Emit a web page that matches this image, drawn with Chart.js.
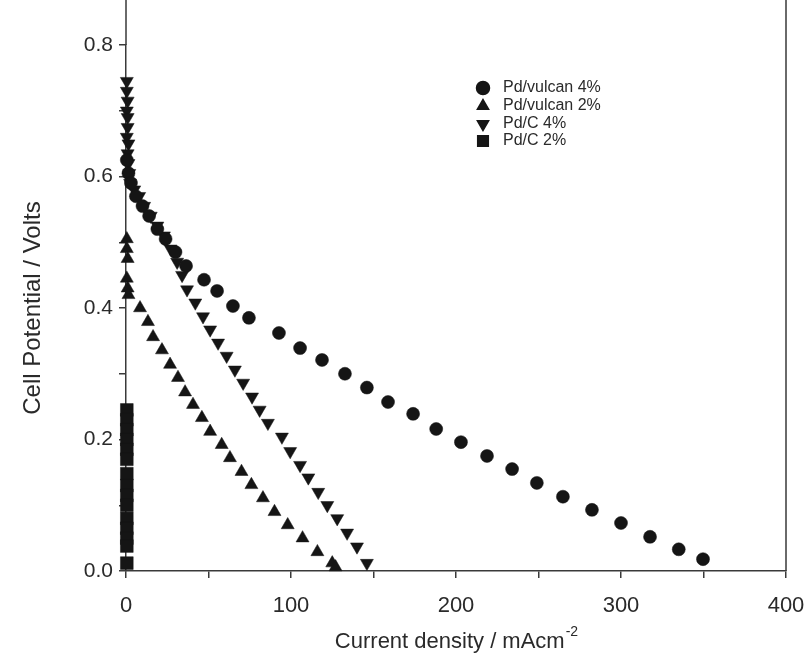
<!DOCTYPE html>
<html>
<head>
<meta charset="utf-8">
<script src="https://cdn.jsdelivr.net/npm/chart.js@4"></script>
<style>
  body { margin: 0; background: #fff; }
  #wrap { width: 811px; height: 668px; }
</style>
</head>
<body>
<div id="wrap"><canvas id="cellChart" width="811" height="668"></canvas></div>
<script>
// values: x = current density (mA/cm2), y = cell potential (V)
const vulcan4X = [0.5, 1.5, 3, 6, 10, 14, 19, 24, 30, 36.4, 47.3, 55.2, 64.8, 74.5, 92.7, 105.5, 118.8, 132.7, 146, 158.8, 174, 188, 203, 218.8, 234, 249, 264.8, 282.4, 300, 317.6, 335, 349.7];
const vulcan4Y = [0.625, 0.605, 0.59, 0.57, 0.555, 0.54, 0.52, 0.505, 0.485, 0.464, 0.443, 0.426, 0.403, 0.385, 0.362, 0.339, 0.321, 0.300, 0.279, 0.257, 0.239, 0.216, 0.196, 0.175, 0.155, 0.134, 0.113, 0.093, 0.073, 0.052, 0.033, 0.018];

const vulcan2X = [0.5, 0.5, 1, 0.5, 1, 1.5, 8.5, 13.3, 16.4, 21.8, 26.7, 31.5, 35.8, 40.6, 46, 51, 58, 63, 70, 76, 83, 90, 98, 107, 116, 125, 127];
const vulcan2Y = [0.505, 0.49, 0.475, 0.445, 0.43, 0.42, 0.40, 0.379, 0.356, 0.336, 0.314, 0.294, 0.272, 0.253, 0.233, 0.212, 0.192, 0.172, 0.151, 0.131, 0.111, 0.090, 0.070, 0.050, 0.029, 0.012, 0.006];

const pdc4X = [0.5, 0.5, 1, 0.5, 1, 1, 0.5, 1.5, 1, 1.5, 2, 2.5, 5, 8, 11, 15, 19, 23, 27, 31, 34, 37, 42, 46.7, 51, 55.8, 61, 66, 71, 76.4, 81, 86, 94.5, 99.5, 105.5, 110.5, 116.5, 122, 128, 134, 140, 146];
const pdc4Y = [0.745, 0.73, 0.715, 0.70, 0.69, 0.675, 0.66, 0.65, 0.635, 0.62, 0.605, 0.59, 0.58, 0.57, 0.555, 0.54, 0.525, 0.51, 0.49, 0.47, 0.45, 0.428, 0.408, 0.387, 0.367, 0.347, 0.327, 0.306, 0.286, 0.265, 0.245, 0.225, 0.204, 0.182, 0.161, 0.142, 0.120, 0.100, 0.080, 0.058, 0.037, 0.012];

const pdc2X = [0.5, 0.5, 0.5, 0.5, 0.5, 0.5, 0.5, 0.5, 0.5, 0.5, 0.5, 0.5, 0.5, 0.5, 0.5];
const pdc2Y = [0.245, 0.23, 0.215, 0.20, 0.185, 0.17, 0.148, 0.13, 0.115, 0.10, 0.08, 0.065, 0.05, 0.038, 0.012];

const seriesNames = ['Pd/vulcan 4%', 'Pd/vulcan 2%', 'Pd/C 4%', 'Pd/C 2%'];
const xTicks = [0, 100, 200, 300, 400];
const yTicks = [0.0, 0.2, 0.4, 0.6, 0.8];

const ink = '#151515';
const axisCol = '#3a3a3a';
const textCol = '#2a2a2a';
const fontFam = '"Liberation Sans", Arial, sans-serif';

const pts = (xs, ys) => xs.map((x, i) => ({ x: x, y: ys[i] }));

function series(label, data, style, rot, r) {
    return {
        label: label,
        data: data,
        pointStyle: style,
        rotation: rot,
        pointRadius: r,
        pointHoverRadius: r,
        backgroundColor: ink,
        borderColor: ink,
        borderWidth: 0.5,
        showLine: false,
        clip: false
    };
}

// legend inside the plot, x title with superscript, and frame lines above 0.8
const extras = {
    id: 'extras',
    afterDraw(chart) {
        const c = chart.ctx;
        const a = chart.chartArea;
        c.save();
        c.strokeStyle = axisCol;
        c.lineWidth = 1.5;
        c.beginPath();
        c.moveTo(a.left, a.top);
        c.lineTo(a.left, 0);
        c.moveTo(a.right, a.bottom);
        c.lineTo(a.right, 0);
        c.stroke();

        // legend
        c.font = '16px ' + fontFam;
        c.textBaseline = 'middle';
        c.textAlign = 'left';
        const rows = [88, 106, 124, 141];
        chart.data.datasets.forEach((ds, i) => {
            c.fillStyle = ink;
            c.strokeStyle = ink;
            Chart.helpers.drawPoint(c, {
                pointStyle: ds.pointStyle,
                rotation: ds.rotation,
                radius: ds.pointStyle === 'rect' ? 7.5 : 6.5,
                borderWidth: 0.5
            }, 483, rows[i]);
            c.fillStyle = textCol;
            c.fillText(ds.label, 503, rows[i]);
        });

        // x axis title
        const cx = (a.left + a.right) / 2;
        const main = 'Current density / mAcm';
        c.font = '14px ' + fontFam;
        const supW = c.measureText('-2').width;
        c.font = '22px ' + fontFam;
        const mainW = c.measureText(main).width;
        const x0 = cx - (mainW + supW) / 2;
        c.fillStyle = textCol;
        c.textBaseline = 'alphabetic';
        c.fillText(main, x0, 648);
        c.font = '14px ' + fontFam;
        c.fillText('-2', x0 + mainW + 1, 636);
        c.restore();
    }
};

const ctx = document.getElementById('cellChart').getContext('2d');
new Chart(ctx, {
    type: 'scatter',
    data: {
        datasets: [
            series(seriesNames[0], pts(vulcan4X, vulcan4Y), 'circle', 0, 6.5),
            series(seriesNames[1], pts(vulcan2X, vulcan2Y), 'triangle', 0, 7.5),
            series(seriesNames[2], pts(pdc4X, pdc4Y), 'triangle', 180, 7.5),
            series(seriesNames[3], pts(pdc2X, pdc2Y), 'rect', 0, 9)
        ]
    },
    options: {
        responsive: false,
        animation: false,
        layout: { padding: { top: 45, right: 25, left: 0, bottom: 0 } },
        plugins: {
            legend: { display: false },
            tooltip: { enabled: false }
        },
        scales: {
            x: {
                type: 'linear',
                min: xTicks[0],
                max: xTicks[xTicks.length - 1],
                afterFit(s) { s.height = 97; s.paddingLeft = 0; s.paddingRight = 0; },
                grid: { display: true, drawOnChartArea: false, drawTicks: true, tickLength: 7, color: axisCol, lineWidth: 1.5 },
                border: { display: true, color: axisCol, width: 1.5 },
                ticks: {
                    stepSize: 50,
                    padding: 15,
                    color: textCol,
                    font: { family: fontFam, size: 22 },
                    maxRotation: 0,
                    callback: v => xTicks.includes(v) ? String(v) : ''
                }
            },
            y: {
                type: 'linear',
                min: yTicks[0],
                max: yTicks[yTicks.length - 1],
                afterFit(s) { s.width = 126; s.paddingTop = 0; s.paddingBottom = 0; },
                grid: { display: true, drawOnChartArea: false, drawTicks: true, tickLength: 7, color: axisCol, lineWidth: 1.5 },
                border: { display: true, color: axisCol, width: 1.5 },
                ticks: {
                    stepSize: 0.1,
                    padding: 6,
                    color: textCol,
                    font: { family: fontFam, size: 21 },
                    callback: v => (Math.round(v * 10) % 2 === 0) ? v.toFixed(1) : ''
                },
                title: {
                    display: true,
                    text: 'Cell Potential / Volts',
                    color: textCol,
                    font: { family: fontFam, size: 24 },
                    padding: { top: 19, bottom: 0 }
                }
            }
        }
    },
    plugins: [extras]
});
</script>
</body>
</html>
